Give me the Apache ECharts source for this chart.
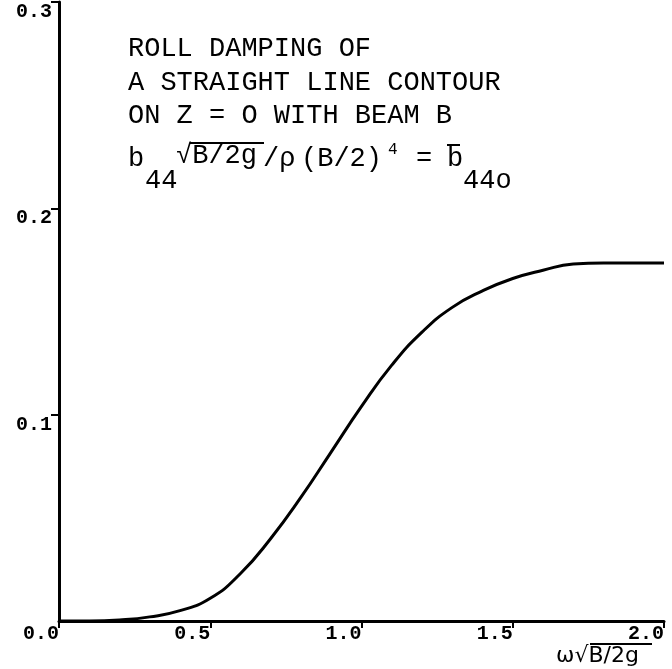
<!DOCTYPE html>
<html>
<head>
<meta charset="utf-8">
<script src="https://cdn.jsdelivr.net/npm/echarts@6/dist/echarts.min.js"></script>
<style>
  html, body { margin: 0; padding: 0; background: #fff; }
  #rollChart { width: 672px; height: 669px; }
</style>
</head>
<body>
<div id="rollChart"></div>
<script>
// frequency omega*sqrt(B/2g)
const freq = [0, 0.1, 0.2, 0.3, 0.4, 0.5, 0.6, 0.7, 0.8, 0.9, 1.0, 1.1, 1.2, 1.3, 1.4, 1.5, 1.6, 1.7, 1.8, 1.9, 2.0];
// non-dimensional roll damping b44o
const damping = [0, 0, 0.0005, 0.002, 0.005, 0.011, 0.023, 0.04, 0.06, 0.082, 0.104, 0.124, 0.14, 0.152, 0.16, 0.166, 0.17, 0.173, 0.1735, 0.1735, 0.1735];
const titleLines = ['ROLL DAMPING OF', 'A STRAIGHT LINE CONTOUR', 'ON Z = O WITH BEAM B'];

var chartDom = document.getElementById('rollChart');
var myChart = echarts.init(chartDom);

const mono = '27px "Liberation Mono"';
const sub = (text, x, y, font) => ({
  type: 'text', x: x, y: y,
  style: { text: text, font: font || mono, fill: '#000', align: 'left', verticalAlign: 'middle' }
});
const bar = (x1, x2, y) => ({
  type: 'line',
  shape: { x1: x1, y1: y, x2: x2, y2: y },
  style: { stroke: '#000', lineWidth: 2 }
});

// title block
const graphics = titleLines.map((t, i) => sub(t, 128, 49 + i * 33.5));
graphics.push(
  sub('b', 128, 159),
  sub('44', 145, 181),
  sub('√B/2g', 176, 156),
  bar(190, 264, 143),
  sub('/ρ', 263, 159),
  sub('(B/2)', 301, 159),
  sub('4', 388, 150, '16px "Liberation Mono"'),
  sub('=', 416, 159),
  sub('b', 447, 159),
  bar(447, 460, 145),
  sub('44o', 463, 181),
  // x axis name
  sub('ω√B/2g', 556, 656, '22px "DejaVu Sans"'),
  bar(590, 652, 644)
);

const option = {
  animation: false,
  grid: { left: 59, right: 8, top: 2, bottom: 48 },
  xAxis: {
    type: 'value',
    min: 0, max: 2, interval: 0.5,
    axisLine: { lineStyle: { color: '#000', width: 3 } },
    axisTick: { show: true, length: 7, lineStyle: { color: '#000', width: 2 } },
    splitLine: { show: false },
    axisLabel: {
      color: '#000', fontFamily: 'Liberation Mono', fontWeight: 'bold', fontSize: 20,
      align: 'right', margin: 3,
      formatter: (v) => v.toFixed(1)
    }
  },
  yAxis: {
    type: 'value',
    min: 0, max: 0.3, interval: 0.1,
    axisLine: { show: true, lineStyle: { color: '#000', width: 3 } },
    axisTick: { show: true, length: 8, lineStyle: { color: '#000', width: 2 } },
    splitLine: { show: false },
    axisLabel: {
      color: '#000', fontFamily: 'Liberation Mono', fontWeight: 'bold', fontSize: 20,
      verticalAlign: 'top', margin: 7, showMinLabel: false,
      formatter: (v) => v.toFixed(1)
    }
  },
  series: [{
    type: 'line',
    smooth: true,
    showSymbol: false,
    lineStyle: { color: '#000', width: 3 },
    data: freq.map((f, i) => [f, damping[i]])
  }],
  graphic: graphics
};

option && myChart.setOption(option);
</script>
</body>
</html>
